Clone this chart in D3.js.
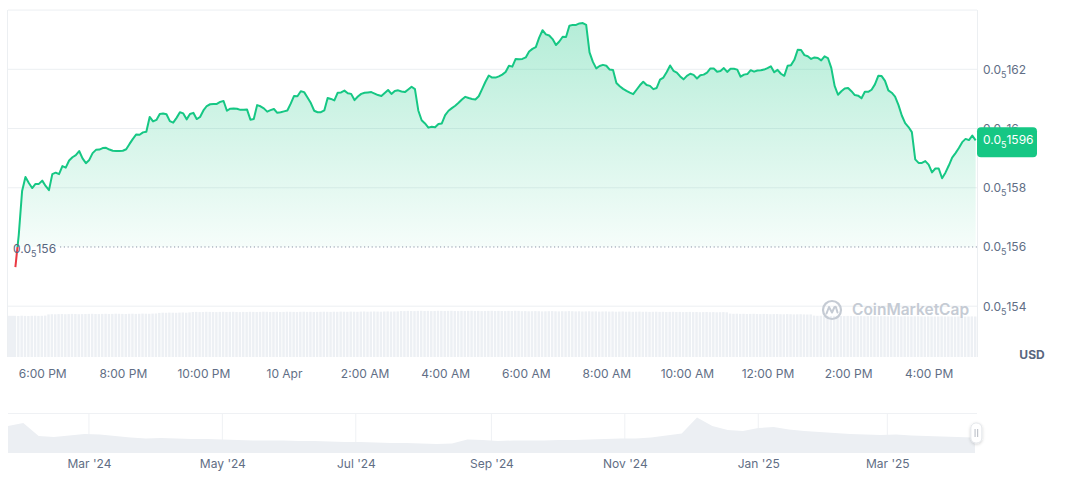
<!DOCTYPE html>
<html><head><meta charset="utf-8">
<script src="https://cdn.jsdelivr.net/npm/d3@7"></script>
<style>
html,body{margin:0;padding:0;background:#fff;}
svg{display:block;font-family:Inter,"Noto Sans",sans-serif;}
</style></head><body>
<svg id="chart" width="1072" height="477"></svg>
<script>
// ---------- DATA ----------
// prices are expressed in units of 1e-8 USD (162 => 0.00000162 => "0.0₅162")
const PRICE_UNIT = 1e-8;
const priceStart = "2025-04-09T17:20:00";
const priceStepMinutes = 5;
const priceValues = [
155.32,156.40,157.89,158.36,158.16,157.99,158.13,158.13,158.24,158.06,
157.92,158.46,158.51,158.46,158.73,158.68,158.92,159.03,159.10,159.24,
158.99,158.83,158.94,159.17,159.28,159.29,159.34,159.35,159.29,159.25,
159.24,159.24,159.25,159.30,159.48,159.65,159.80,159.79,159.87,159.89,
160.39,160.24,160.29,160.49,160.51,160.48,160.25,160.20,160.36,160.55,
160.51,160.31,160.49,160.53,160.32,160.39,160.61,160.76,160.82,160.83,
160.83,160.90,160.93,160.60,160.67,160.68,160.67,160.63,160.63,160.64,
160.30,160.32,160.79,160.75,160.68,160.57,160.62,160.66,160.53,160.55,
160.58,160.61,160.84,161.10,161.09,161.26,161.23,161.05,160.86,160.60,
160.55,160.55,160.61,161.03,161.00,160.95,161.21,161.22,161.28,161.19,
161.17,160.96,161.08,161.17,161.21,161.22,161.23,161.18,161.13,161.10,
161.20,161.30,161.17,161.27,161.29,161.25,161.23,161.32,161.41,161.33,
160.61,160.28,160.17,160.03,160.06,160.04,160.15,160.17,160.45,160.60,
160.69,160.77,160.87,160.98,161.07,161.03,161.00,160.98,161.09,161.33,
161.58,161.79,161.72,161.72,161.76,161.82,161.91,162.12,162.09,162.35,
162.34,162.35,162.40,162.60,162.69,162.75,163.07,163.32,163.18,163.14,
163.02,162.82,162.94,163.10,163.09,163.47,163.50,163.50,163.55,163.56,
163.50,162.57,162.25,162.03,162.11,162.15,162.12,161.99,161.98,161.54,
161.43,161.34,161.27,161.21,161.16,161.31,161.46,161.58,161.47,161.44,
161.33,161.37,161.65,161.72,161.91,162.13,161.95,161.89,161.76,161.66,
161.78,161.85,161.81,161.69,161.80,161.82,161.89,162.03,162.03,161.92,
161.94,162.04,161.91,162.02,162.02,161.99,161.75,161.82,161.84,161.97,
161.92,161.96,161.97,161.99,162.04,162.10,161.90,161.98,161.85,161.78,
162.12,162.14,162.32,162.66,162.65,162.48,162.44,162.35,162.40,162.38,
162.30,162.44,162.38,162.05,161.44,161.14,161.26,161.35,161.37,161.26,
161.13,161.11,161.02,161.24,161.24,161.31,161.49,161.78,161.77,161.61,
161.29,161.21,161.08,160.80,160.44,160.18,160.05,159.88,158.96,158.84,
158.84,158.90,158.78,158.52,158.65,158.65,158.32,158.51,158.75,159.02,
159.17,159.34,159.54,159.65,159.61,159.76,159.60
];
// 24h volume per bar (relative units)
const volumeValues = [
41.2,41.0,41.3,41.1,41.0,41.2,41.3,41.1,41.2,41.4,
42.6,42.8,42.7,42.9,43.0,42.8,42.9,43.1,43.0,42.8,42.9,43.0,43.1,43.2,43.0,42.9,43.1,43.2,43.0,43.1,43.3,43.2,43.1,43.0,43.2,43.3,43.1,43.2,43.4,43.3,43.2,43.4,43.5,
44.1,44.3,44.2,44.4,44.3,44.2,44.4,44.5,44.3,44.6,
45.0,45.1,44.9,45.0,45.2,45.1,45.0,44.9,45.1,45.2,45.0,45.1,45.2,45.0,44.9,45.1,45.0,45.2,45.1,45.0,
45.1,45.3,45.2,45.0,45.1,45.2,45.0,45.1,45.3,45.2,45.1,45.0,45.2,45.3,45.1,45.2,45.0,45.1,45.2,45.3,
45.2,45.1,45.3,45.2,45.4,45.3,45.2,45.4,45.3,45.2,45.4,45.5,45.3,45.4,45.5,45.4,45.3,45.5,45.6,45.4,45.5,45.6,
46.0,45.9,46.1,46.0,45.9,46.1,46.2,46.0,46.1,45.9,46.0,46.2,46.1,46.0,46.1,46.2,46.0,45.9,46.1,46.0,
46.1,46.2,46.0,46.1,45.9,46.0,46.1,46.2,46.0,46.1,46.0,45.9,46.1,46.0,46.2,46.1,
45.8,45.9,45.7,45.8,45.9,45.8,45.6,45.7,45.8,45.9,45.7,45.6,45.8,45.7,45.9,45.8,45.6,45.7,45.5,45.6,
45.7,45.5,45.6,45.4,45.5,45.6,45.4,45.5,45.3,45.4,45.5,45.3,45.4,45.2,45.3,45.4,45.2,45.3,45.1,45.2,
45.3,45.1,45.2,45.0,45.1,45.2,45.0,45.1,44.9,45.0,45.1,44.9,45.0,44.8,44.9,45.0,44.8,44.9,44.7,44.8,44.9,44.7,
43.4,43.2,43.3,43.1,43.2,43.0,43.1,43.2,43.0,42.9,43.1,43.0,42.8,42.9,43.0,42.8,42.7,42.9,42.8,42.6,42.7,42.8,42.6,42.5,42.6,
41.4,41.2,41.3,41.1,41.2,41.0,41.1,41.2,41.0,40.9,41.1,41.0,40.8,40.9,41.0,40.8,40.9,41.0,40.8,40.7,
40.9,40.8,40.7,40.8,40.9,40.7,40.6,40.8,40.7,40.6,40.7,40.8,40.6,40.5,40.7,40.6,40.5,40.6,40.7,40.5,
40.6,40.5,40.4,40.6,40.5,40.4,40.5,40.6,40.5
];
const baselinePrice = 156;
const currentPrice = 159.6;
const yTickValues = [154, 156, 158, 160, 162];
const yGridValues = [154, 156, 158, 160, 162, 164];
const xTickTimes = ["2025-04-09T18:00:00","2025-04-09T20:00:00","2025-04-09T22:00:00","2025-04-10T00:00:00",
  "2025-04-10T02:00:00","2025-04-10T04:00:00","2025-04-10T06:00:00","2025-04-10T08:00:00",
  "2025-04-10T10:00:00","2025-04-10T12:00:00","2025-04-10T14:00:00","2025-04-10T16:00:00"];
const xTickLabels = ["6:00 PM","8:00 PM","10:00 PM","10 Apr","2:00 AM","4:00 AM","6:00 AM","8:00 AM",
  "10:00 AM","12:00 PM","2:00 PM","4:00 PM"];
// long-range history (weekly), same price units
const historyStart = "2024-01-24T00:00:00";
const historyStepDays = 7;
const historyValues = [
270,300,170,160,175,190,185,170,155,145,
150,145,140,140,135,130,125,125,125,120,
120,115,110,110,105,100,100,95,90,95,
135,130,120,125,125,125,130,130,135,140,
145,145,155,175,195,355,270,230,220,250,
260,235,220,210,200,190,185,180,185,175,
170,165,160,155,160
];
const historyTickDates = ["2024-03-01T00:00:00","2024-05-01T00:00:00","2024-07-01T00:00:00","2024-09-01T00:00:00",
  "2024-11-01T00:00:00","2025-01-01T00:00:00","2025-03-01T00:00:00"];
const historyTickLabels = ["Mar '24","May '24","Jul '24","Sep '24","Nov '24","Jan '25","Mar '25"];
const currencyLabel = "USD";
const watermarkText = "CoinMarketCap";

// ---------- LAYOUT ----------
const L = 8, R = 977;
const GREEN = "#16c784", RED = "#ea3943", GRID = "#eceff2", AXIS_TXT = "#616e85";

const svg = d3.select("#chart");
const defs = svg.append("defs");

const t0 = new Date(priceStart);
const priceData = priceValues.map((v, i) => ({ t: new Date(+t0 + i * priceStepMinutes * 60000), v, vol: volumeValues[i] }));

const x = d3.scaleTime().domain([new Date("2025-04-09T17:09:00"), new Date("2025-04-10T17:12:00")]).range([L, R]);
const y = d3.scaleLinear().domain([154, 162]).range([306.2, 69.3]);
const yVol = d3.scaleLinear().domain([0, 46]).range([357, 311]);

function subParts(v) {
  const price = v * PRICE_UNIT;
  const zeros = -Math.floor(Math.log10(price)) - 1;
  const digits = String(+v.toFixed(2)).replace(".", "").replace(/0+$/, "");
  return { zeros, digits };
}
function writeSub(text, v, subSize) {
  const p = subParts(v);
  text.text(null);
  text.append("tspan").text("0.0");
  text.append("tspan").attr("font-size", subSize).attr("dy", 4).text(p.zeros);
  text.append("tspan").attr("dy", -4).text(p.digits);
}

// volume bars
const step = x(priceData[1].t) - x(priceData[0].t);
svg.append("g").selectAll("rect").data(priceData).join("rect")
  .attr("x", d => Math.max(L, x(d.t) - step / 2))
  .attr("width", d => Math.max(0.5, step - 0.9 - Math.max(0, L - (x(d.t) - step / 2))))
  .attr("y", d => yVol(d.vol))
  .attr("height", d => yVol(0) - yVol(d.vol))
  .attr("fill", "#edf0f4");
// first bar extends to left edge
svg.append("rect").attr("x", L).attr("width", x(priceData[0].t) - step / 2 - L + 0.5)
  .attr("y", yVol(priceData[0].vol)).attr("height", yVol(0) - yVol(priceData[0].vol)).attr("fill", "#edf0f4");

// grid lines
svg.append("g").selectAll("line").data(yGridValues.filter(g => g !== baselinePrice)).join("line")
  .attr("x1", L).attr("x2", R).attr("y1", d => y(d)).attr("y2", d => y(d))
  .attr("stroke", GRID).attr("stroke-width", 1);
svg.append("line").attr("x1", L - 0.5).attr("x2", L - 0.5).attr("y1", y(164)).attr("y2", 357).attr("stroke", GRID);
svg.append("line").attr("x1", R + 0.5).attr("x2", R + 0.5).attr("y1", y(164)).attr("y2", 357).attr("stroke", GRID);

// gradients
const gGreen = defs.append("linearGradient").attr("id", "gGreen").attr("gradientUnits", "userSpaceOnUse")
  .attr("x1", 0).attr("x2", 0).attr("y1", y(d3.max(priceValues))).attr("y2", y(baselinePrice));
gGreen.append("stop").attr("offset", 0).attr("stop-color", GREEN).attr("stop-opacity", 0.32);
gGreen.append("stop").attr("offset", 1).attr("stop-color", GREEN).attr("stop-opacity", 0.04);
const gRed = defs.append("linearGradient").attr("id", "gRed").attr("gradientUnits", "userSpaceOnUse")
  .attr("x1", 0).attr("x2", 0).attr("y1", y(baselinePrice)).attr("y2", y(d3.min(priceValues)));
gRed.append("stop").attr("offset", 0).attr("stop-color", RED).attr("stop-opacity", 0.03);
gRed.append("stop").attr("offset", 1).attr("stop-color", RED).attr("stop-opacity", 0.18);

defs.append("clipPath").attr("id", "above").append("rect")
  .attr("x", L).attr("y", 0).attr("width", R - L).attr("height", y(baselinePrice));
defs.append("clipPath").attr("id", "below").append("rect")
  .attr("x", L).attr("y", y(baselinePrice)).attr("width", R - L).attr("height", 120);

const area = d3.area().x(d => x(d.t)).y0(y(baselinePrice)).y1(d => y(d.v));
const line = d3.line().x(d => x(d.t)).y(d => y(d.v));

svg.append("path").datum(priceData).attr("d", area).attr("fill", "url(#gGreen)").attr("clip-path", "url(#above)");
svg.append("path").datum(priceData).attr("d", area).attr("fill", "url(#gRed)").attr("clip-path", "url(#below)");

// baseline dotted
svg.append("line").attr("x1", 60).attr("x2", R).attr("y1", y(baselinePrice)).attr("y2", y(baselinePrice))
  .attr("stroke", "#8a94a6").attr("stroke-width", 1).attr("stroke-dasharray", "1.2,2.6");

svg.append("path").datum(priceData).attr("d", line).attr("fill", "none").attr("stroke", GREEN)
  .attr("stroke-width", 2).attr("stroke-linejoin", "round").attr("clip-path", "url(#above)");
svg.append("path").datum(priceData).attr("d", line).attr("fill", "none").attr("stroke", RED)
  .attr("stroke-width", 2).attr("stroke-linejoin", "round").attr("clip-path", "url(#below)");

// baseline label
const bl = svg.append("text").attr("x", 13).attr("y", y(baselinePrice) + 2).attr("dy", "0.32em")
  .attr("font-size", 12).attr("fill", "#58667e");
writeSub(bl, baselinePrice, 9);

// watermark
const wm = svg.append("g").attr("transform", "translate(832,310)").attr("fill", "none").attr("stroke", "#c5cbd4");
wm.append("circle").attr("r", 9).attr("stroke-width", 2.2);
wm.append("path").attr("d", "M-5.5,3.5 L-3,-3 L0,2.5 L2.5,-3 Q4,-4 4.5,-1 L5.5,2.5").attr("stroke-width", 2)
  .attr("stroke-linejoin", "round").attr("stroke-linecap", "round");
svg.append("text").attr("x", 852).attr("y", 310).attr("dy", "0.35em").attr("font-size", 15.5)
  .attr("font-weight", 600).attr("fill", "#c5cbd4").text(watermarkText);

// y axis labels
const yAxis = svg.append("g").attr("transform", "translate(983,0)")
  .call(d3.axisRight(y).tickValues(yTickValues).tickSize(0).tickPadding(0));
yAxis.select(".domain").remove();
yAxis.selectAll("text").attr("font-family", "Inter,'Noto Sans',sans-serif").attr("font-size", 12)
  .attr("fill", AXIS_TXT).attr("text-anchor", "start")
  .each(function (d) { writeSub(d3.select(this), d, 9); });

// current price badge
const yc = y(currentPrice);
svg.append("rect").attr("x", R).attr("y", yc - 13).attr("width", 60).attr("height", 30).attr("rx", 4).attr("fill", GREEN);
const cp = svg.append("text").attr("x", 983).attr("y", yc).attr("dy", "0.32em").attr("font-size", 12).attr("fill", "#fff");
writeSub(cp, currentPrice, 9);

// USD
svg.append("text").attr("x", 1032).attr("y", 355).attr("dy", "0.35em").attr("text-anchor", "middle")
  .attr("font-size", 12).attr("font-weight", 700).attr("fill", "#58667e").text(currencyLabel);

// x axis
const xAxis = svg.append("g").attr("transform", "translate(0,369)")
  .call(d3.axisBottom(x).tickValues(xTickTimes.map(s => new Date(s))).tickFormat((d, i) => xTickLabels[i]).tickSize(0).tickPadding(0));
xAxis.select(".domain").remove();
xAxis.selectAll("text").attr("font-family", "Inter,'Noto Sans',sans-serif").attr("font-size", 12).attr("fill", AXIS_TXT);

// ---------- NAVIGATOR ----------
const nx = d3.scaleTime().domain([new Date("2024-01-24T00:00:00"), new Date("2025-04-11T00:00:00")]).range([L, R]);
const ny = d3.scaleLinear().domain([0, 400]).range([453, 413]);
const h0 = new Date(historyStart);
const histData = historyValues.map((v, i) => ({ t: new Date(+h0 + i * historyStepDays * 86400000), v }));
defs.append("clipPath").attr("id", "navclip").append("rect").attr("x", L).attr("y", 400).attr("width", R - L - 2).attr("height", 60);

svg.append("line").attr("x1", L).attr("x2", R).attr("y1", 413.5).attr("y2", 413.5).attr("stroke", "#eff1f4");
svg.append("g").selectAll("line").data(historyTickDates.map(s => new Date(s))).join("line")
  .attr("x1", d => nx(d)).attr("x2", d => nx(d)).attr("y1", 413).attr("y2", 453).attr("stroke", "#eff1f4");
svg.append("path").datum(histData).attr("clip-path", "url(#navclip)")
  .attr("d", d3.area().x(d => nx(d.t)).y0(453).y1(d => ny(d.v)))
  .attr("fill", "#eceff3");

const navAxis = svg.append("g").attr("transform", "translate(0,459)")
  .call(d3.axisBottom(nx).tickValues(historyTickDates.map(s => new Date(s))).tickFormat((d, i) => historyTickLabels[i]).tickSize(0).tickPadding(0));
navAxis.select(".domain").remove();
navAxis.selectAll("text").attr("font-family", "Inter,'Noto Sans',sans-serif").attr("font-size", 12).attr("fill", AXIS_TXT);

// handle
const hx = nx(priceData[priceData.length - 1].t);
defs.append("filter").attr("id", "shadow").attr("x", "-50%").attr("y", "-50%").attr("width", "200%").attr("height", "200%")
  .append("feDropShadow").attr("dx", 0).attr("dy", 1).attr("stdDeviation", 1.5).attr("flood-color", "#000").attr("flood-opacity", 0.18);
svg.append("rect").attr("x", hx - 5.5).attr("y", 423).attr("width", 11).attr("height", 20).attr("rx", 5)
  .attr("fill", "#fff").attr("stroke", "#e3e6ea").attr("filter", "url(#shadow)");
[-1.3, 1.3].forEach(o => svg.append("line").attr("x1", hx + o).attr("x2", hx + o).attr("y1", 429).attr("y2", 437)
  .attr("stroke", "#a1a7b3").attr("stroke-width", 0.8));
</script>
</body></html>
